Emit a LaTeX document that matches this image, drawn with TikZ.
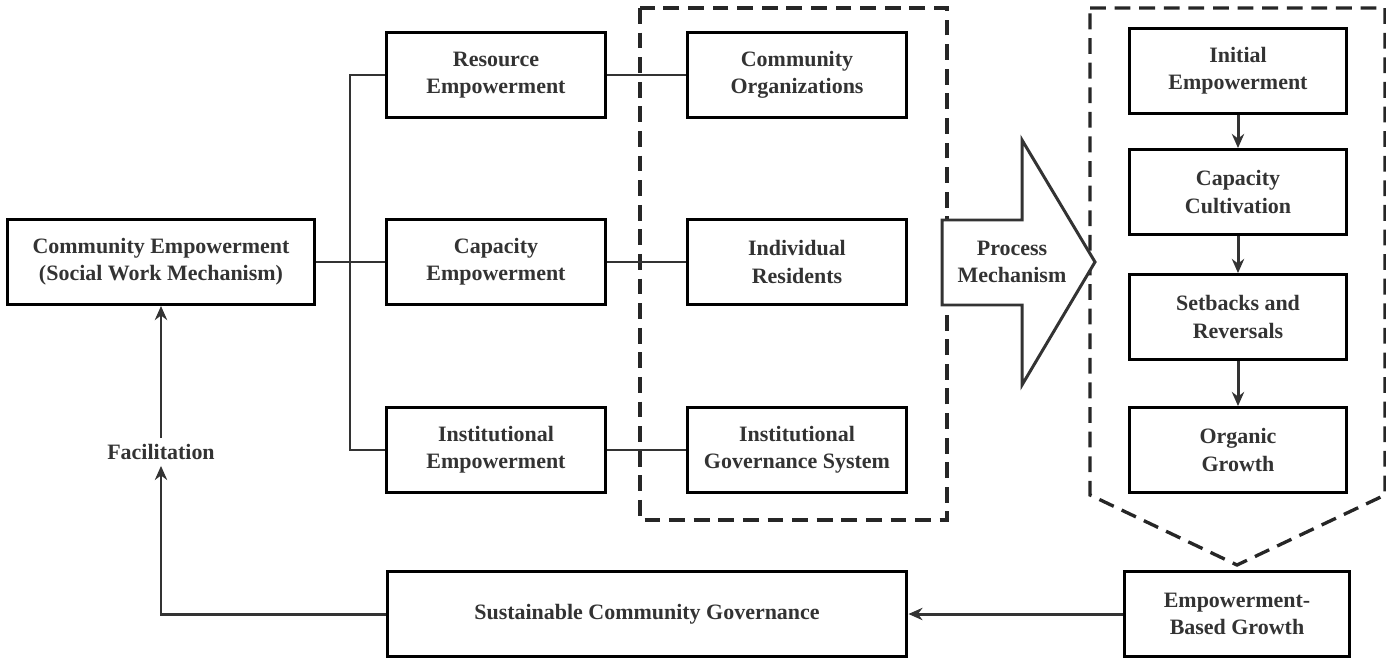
\documentclass[tikz,border=0pt]{standalone}
\usepackage{fontspec}
\setmainfont{Liberation Serif}
\usetikzlibrary{arrows.meta,positioning}
\tikzset{
	blk/.style={draw, line width=1.7pt, minimum width=4.4cm, minimum height=1.7cm, align=center, font=\fontsize{12.5}{15.5}\selectfont\bfseries, text=black!80},
	lnk/.style={line width=1.7pt, draw=black!80},
	arr/.style={lnk, -{Stealth[length=8pt,width=7pt]}},
	dsh/.style={line width=1.9pt, draw=black!85, dash pattern=on 9pt off 5pt}
}
\begin{document}
\begin{tikzpicture}[x=0.02cm,y=-0.02cm]
\useasboundingbox (0,0) rectangle (1386,666);
\draw[dsh] (640,8) rectangle (947,520);
\draw[dsh] (1090,8) -- (1385,8) -- (1385,495) -- (1237,565) -- (1090,495) -- cycle;
\node[blk, minimum width=6.16cm] (ce) at (161,262) {Community Empowerment\\(Social Work Mechanism)};
\node[blk] (re) at (496,75) {Resource\\Empowerment};
\node[blk] (cpe) at (496,262) {Capacity\\Empowerment};
\node[blk] (ie) at (496,450) {Institutional\\Empowerment};
\node[blk] (co) at (797,75) {Community\\Organizations};
\node[blk] (ir) at (797,262) {Individual\\Residents};
\node[blk] (igs) at (797,450) {Institutional\\Governance System};
\node[blk, minimum width=4.34cm] (ini) at (1238,71) {Initial\\Empowerment};
\node[blk, minimum width=4.34cm] (cc) at (1238,192) {Capacity\\Cultivation};
\node[blk, minimum width=4.34cm] (sr) at (1238,317) {Setbacks and\\Reversals};
\node[blk, minimum width=4.34cm] (og) at (1238,450) {Organic\\Growth};
\node[blk, minimum width=4.5cm] (ebg) at (1237,614) {Empowerment-\\Based Growth};
\node[blk, minimum width=10.4cm] (scg) at (647,614) {Sustainable Community Governance};
\node[font=\fontsize{12.5}{15.5}\selectfont\bfseries, text=black!80] (fac) at (161,452) {Facilitation};
% big process arrow
\draw[lnk, fill=white] (942,220) -- (1022,220) -- (1022,140) -- (1095,262) -- (1022,385) -- (1022,305) -- (942,305) -- cycle;
\node[font=\fontsize{12.5}{15.5}\selectfont\bfseries, text=black!80, align=center] (pm) at (1012,262) {Process\\Mechanism};
% tree
\coordinate (tr) at (350,262);
\draw[lnk] (ce.east) -- (tr);
\draw[lnk] (re.west) -| (350,450) -- (ie.west);
\draw[lnk] (tr) -- (cpe.west);
\draw[lnk] (re) -- (co);
\draw[lnk] (cpe) -- (ir);
\draw[lnk] (ie) -- (igs);
% process chain
\draw[arr] (ini) -- (cc);
\draw[arr] (cc) -- (sr);
\draw[arr] (sr) -- (og);
% feedback
\draw[arr] (ebg) -- (scg);
\draw[arr] (scg.west) -| (fac.south);
\draw[arr] (fac.north) -- (ce.south);
\end{tikzpicture}
\end{document}
